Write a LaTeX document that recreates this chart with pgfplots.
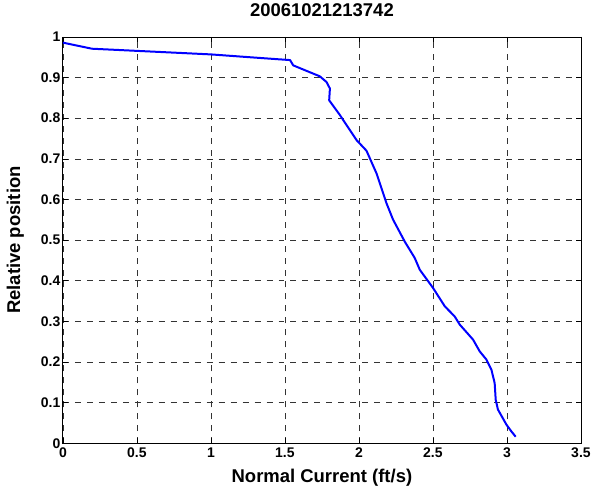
\documentclass[border=0pt]{standalone}
\usepackage{pgfplots}
\pgfplotsset{compat=1.18}
\usepackage{fontspec}
\setmainfont{Liberation Sans}
\begin{document}
\begin{tikzpicture}
\begin{axis}[
  scale only axis,
  width=519pt, height=407pt,
  xmin=0, xmax=3.5, ymin=0, ymax=1,
  xtick={0,0.5,...,3.5}, ytick={0,0.1,...,1},
  xticklabels={0,0.5,1,1.5,2,2.5,3,3.5},
  yticklabels={0,0.1,0.2,0.3,0.4,0.5,0.6,0.7,0.8,0.9,1},
  tick align=inside, major tick length=5pt,
  tick style={black, line width=0.6pt},
  axis line style={black, line width=0.8pt},
  grid=major,
  major grid style={black!80, dash pattern=on 6pt off 6pt, line width=0.6pt},
  ticklabel style={font=\fontsize{14}{16}\selectfont\bfseries},
  xticklabel style={yshift=-1pt},
  yticklabel style={xshift=1pt},
  title={\fontsize{18.5}{20}\selectfont\bfseries 20061021213742},
  title style={at={([yshift=21pt]rel axis cs:0.5,1)}, anchor=center},
  xlabel={\fontsize{18.5}{20}\selectfont\bfseries Normal Current (ft/s)},
  ylabel={\fontsize{18.5}{20}\selectfont\bfseries Relative position},
  xlabel style={at={([yshift=-35pt]rel axis cs:0.5,0)}, anchor=center},
  ylabel style={at={([xshift=-47.5pt]rel axis cs:0,0.5)}, anchor=center},
]
\addplot[blue, line width=2pt, line join=round] coordinates {
(0,0.986) (0.196,0.971) (1.0,0.957) (1.264,0.950) (1.535,0.943) (1.556,0.930)
(1.736,0.903) (1.781,0.889) (1.804,0.873) (1.799,0.844) (1.871,0.808)
(1.984,0.746) (2.051,0.720) (2.119,0.664) (2.186,0.591) (2.231,0.550)
(2.310,0.496) (2.377,0.456) (2.411,0.427) (2.501,0.382) (2.580,0.337)
(2.647,0.312) (2.681,0.292) (2.771,0.255) (2.816,0.226) (2.861,0.206)
(2.895,0.181) (2.917,0.148) (2.924,0.107) (2.939,0.083) (2.996,0.046)
(3.030,0.029) (3.059,0.016)
};
\end{axis}
\useasboundingbox (-63pt,-47pt) rectangle (531pt,444pt);
\end{tikzpicture}
\end{document}
